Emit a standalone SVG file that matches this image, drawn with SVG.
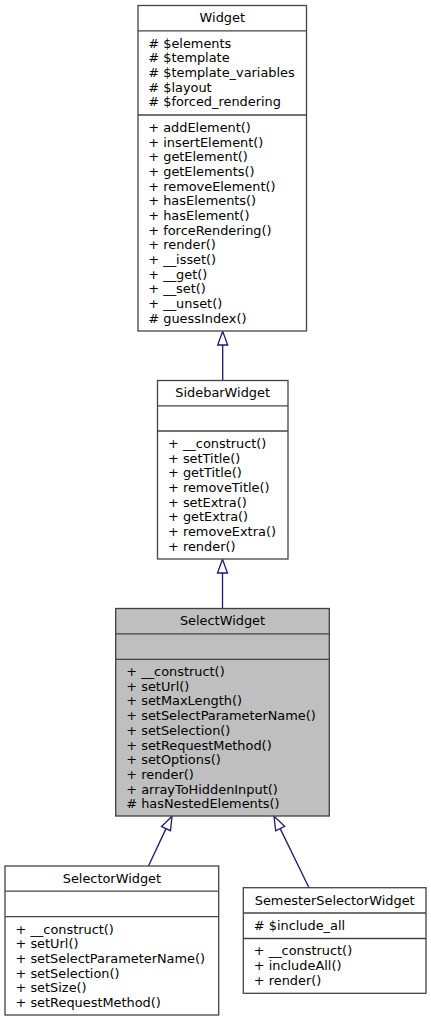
<svg xmlns="http://www.w3.org/2000/svg" width="431" height="1021" viewBox="0 0 431 1021">
<style>
text{font-family:"DejaVu Sans","Liberation Sans",sans-serif;font-size:12.9px;fill:#000}
.t{text-anchor:middle}
.box{fill:#fff;stroke:#444;stroke-width:1.3}
.sel{fill:#bfbfbf;stroke:#404040;stroke-width:1.3}
.sep{stroke:#444;stroke-width:1.3}
.edge{fill:none;stroke:#191970;stroke-width:1.3}
.head{fill:#fff;stroke:#191970;stroke-width:1.3}
</style>
<rect width="431" height="1021" fill="#fff"/>
<g id="connectors">
<line class="edge" x1="222.7" y1="380.5" x2="222.7" y2="345"/>
<polygon class="head" points="222.7,331.3 217.7,345 227.7,345"/>
<line class="edge" x1="222.5" y1="608.5" x2="222.5" y2="573"/>
<polygon class="head" points="222.5,559.3 217.5,573 227.5,573"/>
<line class="edge" x1="148.5" y1="866" x2="166" y2="828.6"/>
<polygon class="head" points="172,816.3 161.5,826.5 170.5,830.7"/>
<line class="edge" x1="309" y1="887.7" x2="280.2" y2="828.6"/>
<polygon class="head" points="274,816.3 284.7,826.4 275.7,830.8"/>
</g>
<g id="Widget">
<rect class="box" x="138" y="5.5" width="168.5" height="325.5"/>
<line class="sep" x1="138" y1="30.8" x2="306.5" y2="30.8"/>
<line class="sep" x1="138" y1="115" x2="306.5" y2="115"/>
<text class="t" x="222.3" y="22.3">Widget</text>
<text x="148.3" y="47.6"># $elements</text>
<text x="148.3" y="62.3"># $template</text>
<text x="148.3" y="76.9"># $template_variables</text>
<text x="148.3" y="91.6"># $layout</text>
<text x="148.3" y="106.3"># $forced_rendering</text>
<text x="148.3" y="131.8">+ addElement()</text>
<text x="148.3" y="146.5">+ insertElement()</text>
<text x="148.3" y="161.1">+ getElement()</text>
<text x="148.3" y="175.8">+ getElements()</text>
<text x="148.3" y="190.5">+ removeElement()</text>
<text x="148.3" y="205.2">+ hasElements()</text>
<text x="148.3" y="219.8">+ hasElement()</text>
<text x="148.3" y="234.5">+ forceRendering()</text>
<text x="148.3" y="249.2">+ render()</text>
<text x="148.3" y="263.8">+ __isset()</text>
<text x="148.3" y="278.5">+ __get()</text>
<text x="148.3" y="293.2">+ __set()</text>
<text x="148.3" y="307.8">+ __unset()</text>
<text x="148.3" y="322.5"># guessIndex()</text>
</g>
<g id="SidebarWidget">
<rect class="box" x="157.5" y="380.5" width="130.5" height="178.5"/>
<line class="sep" x1="157.5" y1="405.8" x2="288" y2="405.8"/>
<line class="sep" x1="157.5" y1="431" x2="288" y2="431"/>
<text class="t" x="222.7" y="397.3">SidebarWidget</text>
<text x="168" y="447.8">+ __construct()</text>
<text x="168" y="462.5">+ setTitle()</text>
<text x="168" y="477.1">+ getTitle()</text>
<text x="168" y="491.8">+ removeTitle()</text>
<text x="168" y="506.5">+ setExtra()</text>
<text x="168" y="521.2">+ getExtra()</text>
<text x="168" y="535.8">+ removeExtra()</text>
<text x="168" y="550.5">+ render()</text>
</g>
<g id="SelectWidget">
<rect class="sel" x="115.7" y="608.5" width="213.6" height="207.5"/>
<line class="sep" x1="115.7" y1="633.8" x2="329.3" y2="633.8" stroke="#404040"/>
<line class="sep" x1="115.7" y1="659.3" x2="329.3" y2="659.3" stroke="#404040"/>
<text class="t" x="222.5" y="625.3">SelectWidget</text>
<text x="126.3" y="676.1">+ __construct()</text>
<text x="126.3" y="690.8">+ setUrl()</text>
<text x="126.3" y="705.4">+ setMaxLength()</text>
<text x="126.3" y="720.1">+ setSelectParameterName()</text>
<text x="126.3" y="734.8">+ setSelection()</text>
<text x="126.3" y="749.5">+ setRequestMethod()</text>
<text x="126.3" y="764.1">+ setOptions()</text>
<text x="126.3" y="778.8">+ render()</text>
<text x="126.3" y="793.5">+ arrayToHiddenInput()</text>
<text x="126.3" y="808.1"># hasNestedElements()</text>
</g>
<g id="SelectorWidget">
<rect class="box" x="5" y="866" width="213.7" height="149"/>
<line class="sep" x1="5" y1="891.2" x2="218.7" y2="891.2"/>
<line class="sep" x1="5" y1="916.7" x2="218.7" y2="916.7"/>
<text class="t" x="111.9" y="882.8">SelectorWidget</text>
<text x="15.5" y="933.5">+ __construct()</text>
<text x="15.5" y="948.2">+ setUrl()</text>
<text x="15.5" y="962.8">+ setSelectParameterName()</text>
<text x="15.5" y="977.5">+ setSelection()</text>
<text x="15.5" y="992.2">+ setSize()</text>
<text x="15.5" y="1006.8">+ setRequestMethod()</text>
</g>
<g id="SemesterSelectorWidget">
<rect class="box" x="243.3" y="887.7" width="182.7" height="105.6"/>
<line class="sep" x1="243.3" y1="913" x2="426" y2="913"/>
<line class="sep" x1="243.3" y1="938.5" x2="426" y2="938.5"/>
<text class="t" x="334.7" y="904.5">SemesterSelectorWidget</text>
<text x="253.8" y="929.8"># $include_all</text>
<text x="253.8" y="955.3">+ __construct()</text>
<text x="253.8" y="970">+ includeAll()</text>
<text x="253.8" y="984.6">+ render()</text>
</g>
</svg>
